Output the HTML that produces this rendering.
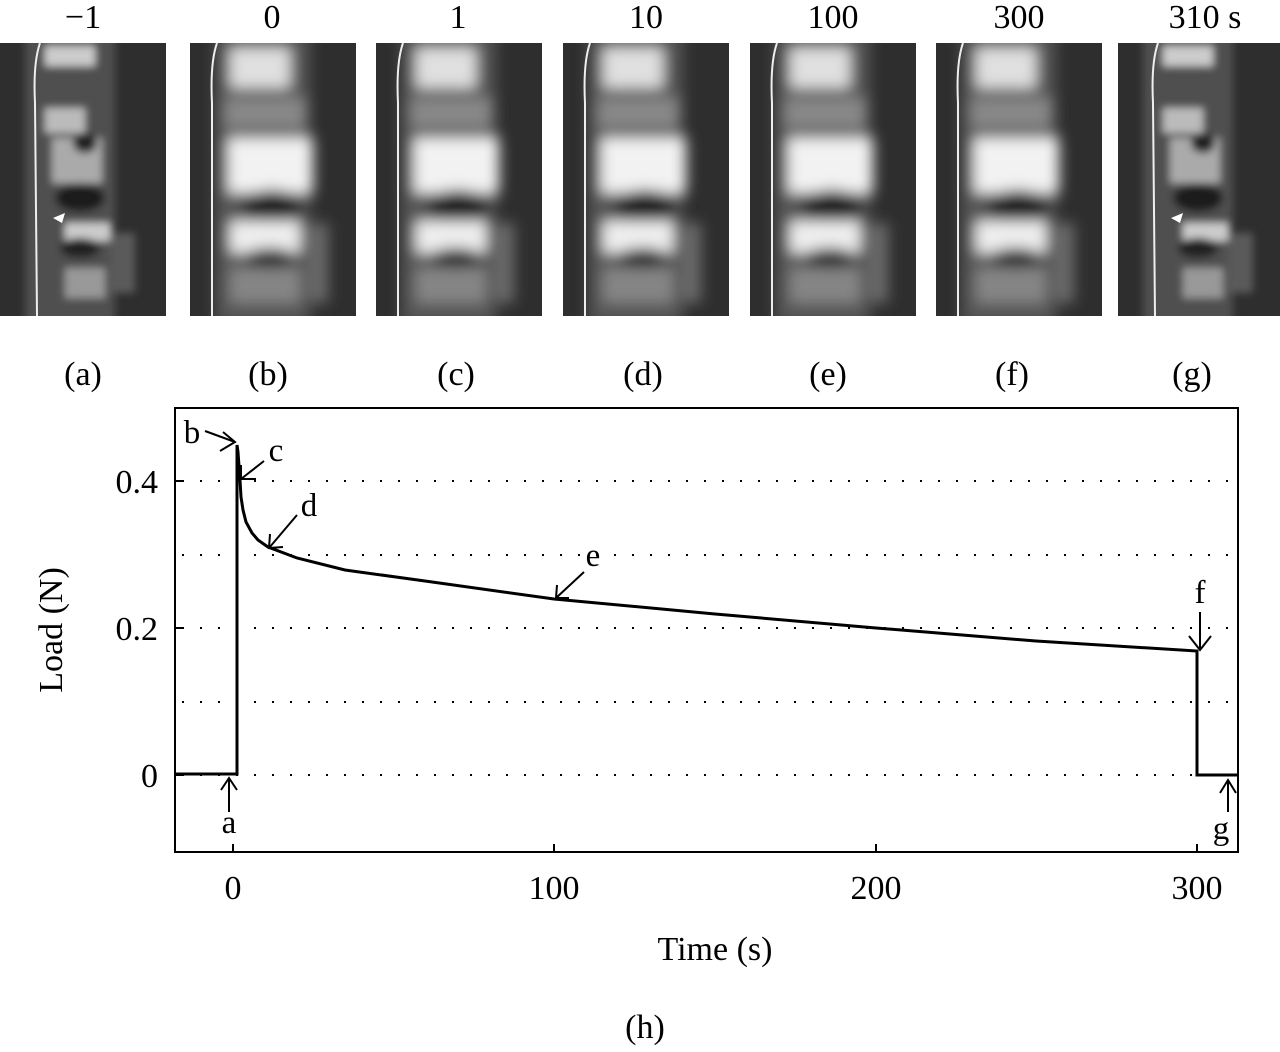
<!DOCTYPE html>
<html><head><style>
body{margin:0;background:#fff;width:1280px;height:1047px;overflow:hidden;font-family:"Liberation Serif",serif;}
</style></head><body>
<svg width="1280" height="1047" xmlns="http://www.w3.org/2000/svg" font-family="Liberation Serif, serif">
<defs>
<clipPath id="cp"><rect width="166" height="273"/></clipPath>
<filter id="bl" x="-20%" y="-20%" width="140%" height="140%"><feGaussianBlur stdDeviation="7"/></filter>
<filter id="bl2"><feGaussianBlur stdDeviation="4"/></filter>
<g id="loaded" clip-path="url(#cp)">
<rect width="166" height="273" fill="#2e2e2e"/>
<g filter="url(#bl)">
<rect x="25" y="-10" width="95" height="293" fill="#555"/>
<rect x="40" y="5" width="60" height="40" fill="#e0e0e0"/>
<rect x="35" y="55" width="80" height="30" fill="#888"/>
<rect x="38" y="95" width="85" height="55" fill="#f2f2f2"/>
<ellipse cx="82" cy="163" rx="30" ry="16" fill="#1a1a1a"/>
<rect x="40" y="178" width="70" height="32" fill="#eeeeee"/>
<ellipse cx="80" cy="215" rx="25" ry="10" fill="#222"/>
<rect x="40" y="225" width="70" height="35" fill="#858585"/>
<rect x="120" y="180" width="18" height="80" fill="#6a6a6a"/>
</g>
<path d="M27 0 Q20 20 22 60 L22 273" stroke="#eee" stroke-width="2" fill="none"/>
</g>
<g id="rest" clip-path="url(#cp)">
<rect width="166" height="273" fill="#2e2e2e"/>
<g filter="url(#bl2)">
<rect x="25" y="-10" width="90" height="293" fill="#505050"/>
<rect x="45" y="3" width="50" height="20" fill="#ccc"/>
<rect x="45" y="65" width="40" height="25" fill="#bbb"/>
<rect x="52" y="95" width="50" height="45" fill="#aaa"/>
<ellipse cx="85" cy="100" rx="12" ry="10" fill="#222"/>
<ellipse cx="80" cy="155" rx="25" ry="14" fill="#1a1a1a"/>
<rect x="65" y="180" width="45" height="18" fill="#ccc"/>
<ellipse cx="80" cy="205" rx="20" ry="10" fill="#222"/>
<rect x="65" y="225" width="40" height="30" fill="#999"/>
<rect x="110" y="190" width="25" height="60" fill="#5a5a5a"/>
</g>
<path d="M40 0 Q33 20 35 60 L37 273" stroke="#eee" stroke-width="2" fill="none"/>
<path d="M53 175 l12 -5 l-3 10 z" fill="#fff"/>
</g>
</defs>
<use href="#rest" x="0" y="43"/>
<use href="#loaded" x="190" y="43"/>
<use href="#loaded" x="376" y="43"/>
<use href="#loaded" x="563" y="43"/>
<use href="#loaded" x="750" y="43"/>
<use href="#loaded" x="936" y="43"/>
<use href="#rest" x="1118" y="43"/>
<g font-size="34" text-anchor="middle" fill="#000">
<text x="83" y="28">−1</text><text x="272" y="28">0</text><text x="458" y="28">1</text>
<text x="646" y="28">10</text><text x="833" y="28">100</text><text x="1019" y="28">300</text><text x="1205" y="28">310 s</text>
<text x="83" y="385">(a)</text><text x="268" y="385">(b)</text><text x="456" y="385">(c)</text>
<text x="643" y="385">(d)</text><text x="828" y="385">(e)</text><text x="1012" y="385">(f)</text><text x="1192" y="385">(g)</text>
<text x="645" y="1038">(h)</text>
<text x="715" y="960">Time (s)</text>
<text x="233" y="899">0</text><text x="554" y="899">100</text><text x="876" y="899">200</text><text x="1197" y="899">300</text>
<text x="62" y="630" transform="rotate(-90 62 630)">Load (N)</text>
</g>
<g font-size="34" text-anchor="end">
<text x="158" y="493">0.4</text><text x="158" y="640">0.2</text><text x="158" y="787">0</text>
</g>
<g stroke="#000" stroke-width="2" stroke-dasharray="2 16">
<line x1="182" y1="481" x2="1238" y2="481"/><line x1="182" y1="555" x2="1238" y2="555"/>
<line x1="182" y1="628" x2="1238" y2="628"/><line x1="182" y1="702" x2="1238" y2="702"/>
<line x1="182" y1="775" x2="1238" y2="775"/>
</g>
<rect x="175" y="408" width="1063" height="444" fill="none" stroke="#000" stroke-width="2"/>
<g stroke="#000" stroke-width="2">
<line x1="175" y1="481" x2="183" y2="481"/><line x1="175" y1="628" x2="183" y2="628"/><line x1="175" y1="775" x2="183" y2="775"/>
<line x1="233" y1="852" x2="233" y2="844"/><line x1="554" y1="852" x2="554" y2="844"/><line x1="876" y1="852" x2="876" y2="844"/><line x1="1197" y1="852" x2="1197" y2="844"/>
</g>
<polyline fill="none" stroke="#000" stroke-width="3" points="175,774 237,774 237,445 238,452 240,480 241,497 243,510 246,522 252,533 258,540 268,547 297,558 345,570 425,581 554,599 715,614 876,628 1036,641 1197,651 1197,775 1238,775"/>
<g stroke="#000" stroke-width="2" fill="none">
<path d="M205 431 L235 442 M223 432 L235 442 L220 451"/>
<path d="M264 461 L241 479 M241 465 L241 479 L256 479"/>
<path d="M297 515 L269 548 M270 534 L269 548 L283 547"/>
<path d="M584 572 L556 598 M557 585 L556 598 L569 598"/>
<path d="M1200 612 L1200 650 M1189 636 L1200 650 L1211 636"/>
<path d="M229 812 L229 778 M221 790 L229 778 L237 790"/>
<path d="M1228 812 L1228 780 M1220 793 L1228 780 L1236 793"/>
</g>
<g font-size="33" text-anchor="middle">
<text x="192" y="443">b</text><text x="276" y="461">c</text><text x="309" y="516">d</text>
<text x="593" y="566">e</text><text x="1200" y="603">f</text><text x="229" y="833">a</text><text x="1221" y="839">g</text>
</g>
</svg>
</body></html>
